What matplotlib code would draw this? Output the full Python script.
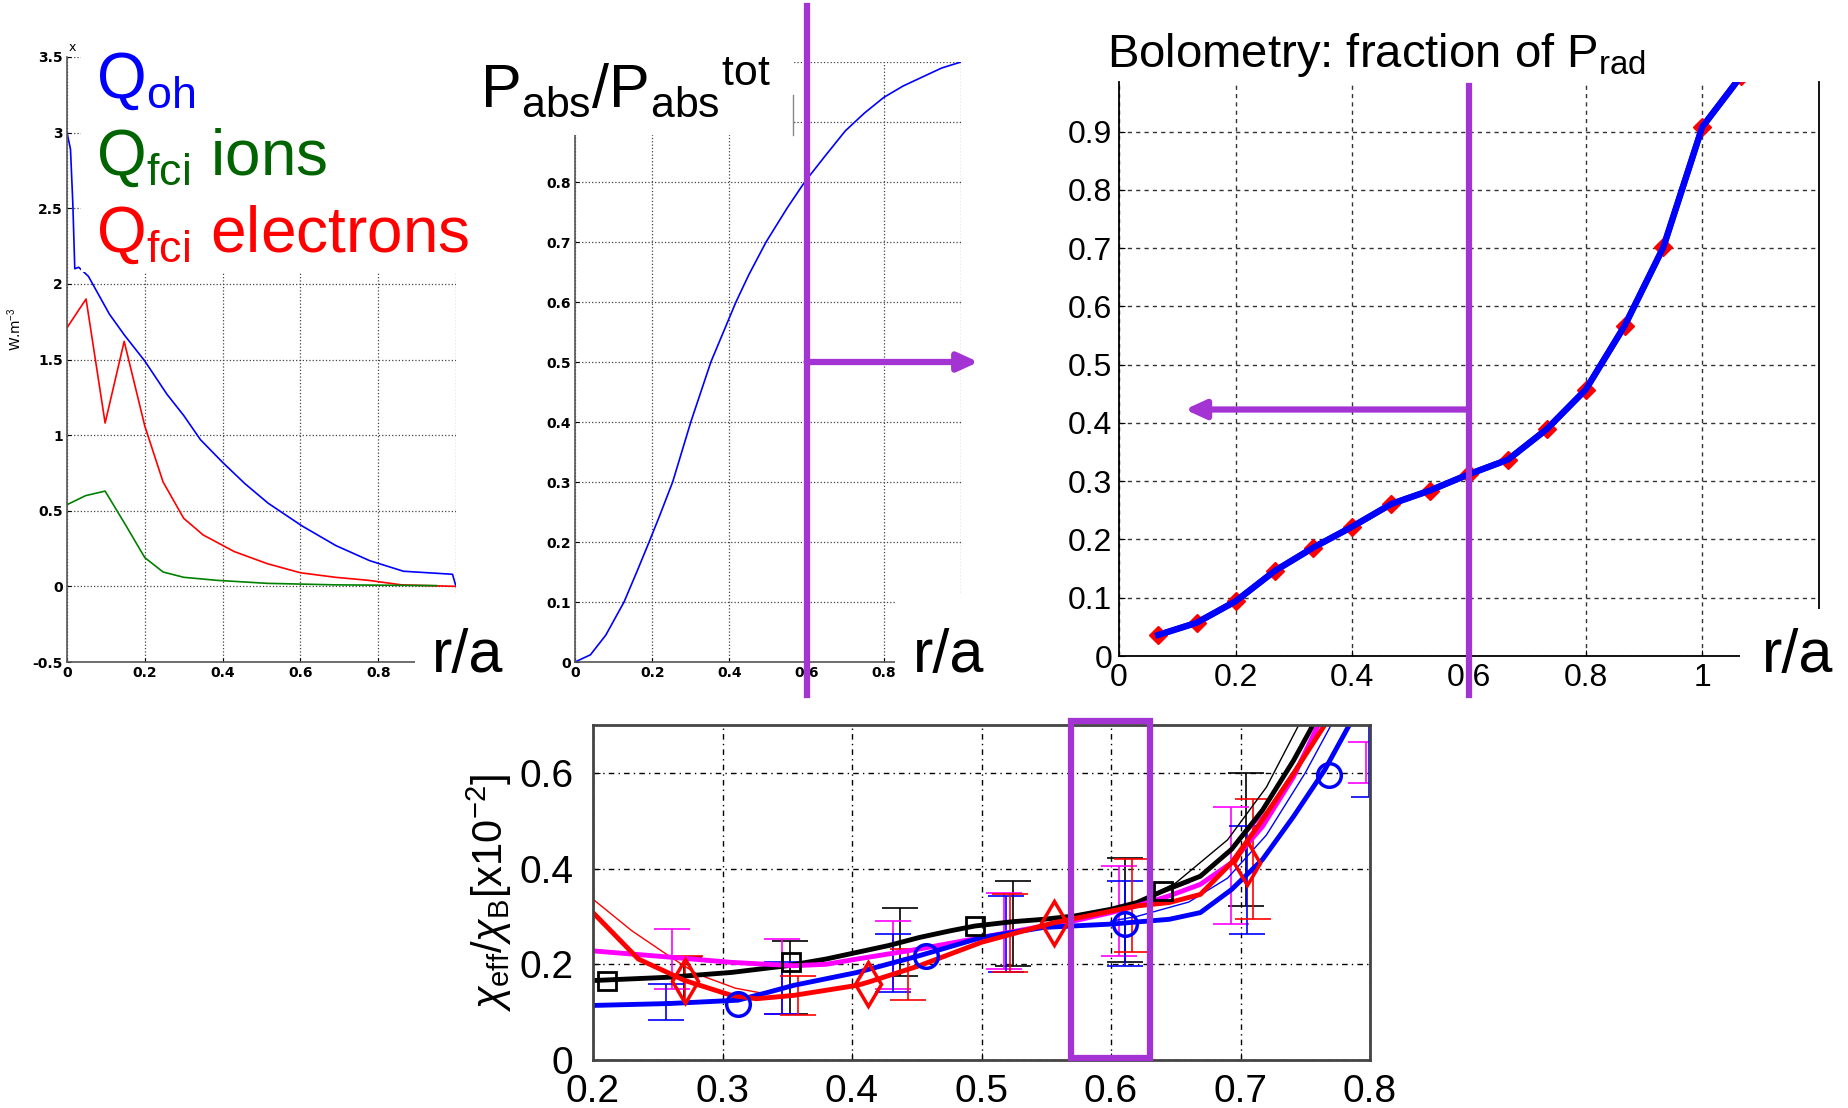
import numpy as np
import matplotlib
matplotlib.use("Agg")
import matplotlib.pyplot as plt
from matplotlib.patches import Rectangle

plt.rcParams['font.family'] = ['Liberation Sans', 'DejaVu Sans']
plt.rcParams['mathtext.fontset'] = 'custom'
plt.rcParams['mathtext.rm'] = 'Liberation Sans'
plt.rcParams['mathtext.it'] = 'Liberation Sans:italic'
plt.rcParams['mathtext.bf'] = 'Liberation Sans:bold'

PURPLE = '#A433D3'

# ---- panel 1: power densities ----
r_oh = [0, 0.009, 0.015, 0.02, 0.03, 0.055, 0.109, 0.148, 0.2, 0.257, 0.3, 0.343, 0.4,
        0.457, 0.517, 0.604, 0.691, 0.778, 0.865, 0.991, 1.0]
q_oh = [3.0, 2.89, 2.53, 2.1, 2.11, 2.05, 1.8, 1.66, 1.49, 1.27, 1.13, 0.97, 0.82,
        0.68, 0.55, 0.40, 0.27, 0.17, 0.10, 0.08, 0.0]
r_el = [0, 0.049, 0.098, 0.147, 0.2, 0.247, 0.3, 0.35, 0.43, 0.515, 0.6, 0.69, 0.775, 0.86, 1.0]
q_el = [1.71, 1.90, 1.08, 1.62, 1.06, 0.69, 0.45, 0.34, 0.23, 0.15, 0.09, 0.06, 0.04, 0.01, 0.0]
r_ion = [0, 0.048, 0.098, 0.152, 0.2, 0.247, 0.3, 0.385, 0.515, 0.69, 0.95]
q_ion = [0.54, 0.60, 0.63, 0.40, 0.19, 0.095, 0.06, 0.04, 0.02, 0.01, 0.005]

# ---- panel 2: cumulative absorbed power ----
r_abs = [0, 0.04, 0.08, 0.127, 0.16, 0.192, 0.22, 0.253, 0.3, 0.352, 0.417, 0.45, 0.495,
         0.55, 0.595, 0.65, 0.7, 0.75, 0.8, 0.85, 0.9, 0.95, 1.0]
p_abs = [0, 0.012, 0.045, 0.1, 0.15, 0.2, 0.245, 0.3, 0.4, 0.5, 0.6, 0.645, 0.7,
         0.757, 0.8, 0.845, 0.885, 0.915, 0.941, 0.96, 0.975, 0.99, 1.0]

# ---- panel 3: bolometry ----
r_bolo = [0.067, 0.133, 0.2, 0.267, 0.333, 0.4, 0.467, 0.533, 0.6, 0.667, 0.733, 0.8,
          0.867, 0.933, 1.0, 1.067]
f_bolo = [0.036, 0.057, 0.094, 0.146, 0.186, 0.222, 0.261, 0.284, 0.312, 0.337, 0.389,
          0.457, 0.567, 0.701, 0.908, 0.996]

# ---- panel 4: chi_eff / chi_B ----
x_blk = [0.2, 0.259, 0.307, 0.35, 0.38, 0.404, 0.428, 0.452, 0.476, 0.495, 0.524, 0.548,
         0.572, 0.6, 0.62, 0.64, 0.669, 0.693, 0.717, 0.741, 0.756]
y_blk = [0.166, 0.173, 0.183, 0.197, 0.211, 0.225, 0.239, 0.256, 0.27, 0.28, 0.289, 0.294,
         0.301, 0.315, 0.329, 0.353, 0.384, 0.44, 0.522, 0.626, 0.70]
x_blk_thin = [0.6, 0.62, 0.65, 0.69, 0.72, 0.745]
y_blk_thin = [0.315, 0.33, 0.37, 0.46, 0.57, 0.70]
x_blk_mk = [0.211, 0.353, 0.495, 0.64]
y_blk_mk = [0.166, 0.204, 0.28, 0.353]

x_mag = [0.2, 0.259, 0.307, 0.355, 0.38, 0.404, 0.452, 0.5, 0.548, 0.572, 0.6, 0.62,
         0.645, 0.669, 0.693, 0.717, 0.741, 0.76]
y_mag = [0.228, 0.215, 0.204, 0.197, 0.2, 0.211, 0.232, 0.256, 0.28, 0.291, 0.308, 0.322,
         0.343, 0.367, 0.412, 0.488, 0.592, 0.70]
x_mag_thin = [0.6, 0.62, 0.66, 0.69, 0.72, 0.75, 0.765]
y_mag_thin = [0.31, 0.33, 0.37, 0.43, 0.52, 0.64, 0.70]

x_blu = [0.2, 0.259, 0.312, 0.336, 0.355, 0.404, 0.452, 0.5, 0.548, 0.6, 0.645, 0.669,
         0.693, 0.717, 0.741, 0.765, 0.784]
y_blu = [0.114, 0.118, 0.125, 0.142, 0.156, 0.183, 0.218, 0.256, 0.277, 0.284, 0.294, 0.308,
         0.356, 0.419, 0.509, 0.606, 0.70]
x_blu_thin = [0.6, 0.62, 0.66, 0.69, 0.72, 0.75, 0.77]
y_blu_thin = [0.29, 0.30, 0.33, 0.38, 0.47, 0.60, 0.70]
x_blu_mk = [0.312, 0.457, 0.611, 0.768]
y_blu_mk = [0.118, 0.218, 0.284, 0.595]

x_red = [0.2, 0.235, 0.271, 0.307, 0.326, 0.355, 0.404, 0.413, 0.452, 0.5, 0.556, 0.6,
         0.62, 0.645, 0.669, 0.693, 0.717, 0.741, 0.765]
y_red = [0.308, 0.211, 0.166, 0.135, 0.128, 0.135, 0.156, 0.163, 0.197, 0.246, 0.287, 0.311,
         0.322, 0.329, 0.346, 0.412, 0.502, 0.599, 0.70]
x_red_thin = [0.2, 0.23, 0.26, 0.28, 0.31, 0.33]
y_red_thin = [0.336, 0.27, 0.215, 0.18, 0.15, 0.14]
x_red_mk = [0.271, 0.412, 0.556, 0.705]
y_red_mk = [0.166, 0.159, 0.287, 0.412]

# error bars: position, low, high
eb_blk_x = [0.27, 0.352, 0.437, 0.524, 0.611, 0.704]
eb_blk_lo = [0.121, 0.097, 0.176, 0.197, 0.204, 0.322]
eb_blk_hi = [0.215, 0.249, 0.318, 0.374, 0.422, 0.60]
eb_mag_x = [0.261, 0.346, 0.432, 0.517, 0.606, 0.693, 0.797]
eb_mag_lo = [0.149, 0.097, 0.149, 0.19, 0.218, 0.284, 0.578]
eb_mag_hi = [0.273, 0.253, 0.291, 0.349, 0.405, 0.528, 0.664]
eb_blu_x = [0.256, 0.346, 0.432, 0.519, 0.611, 0.705, 0.799]
eb_blu_lo = [0.083, 0.097, 0.142, 0.183, 0.197, 0.263, 0.55]
eb_blu_hi = [0.159, 0.204, 0.263, 0.343, 0.374, 0.488, 0.72]
eb_red_x = [0.271, 0.358, 0.443, 0.522, 0.616, 0.71]
eb_red_lo = [0.12, 0.093, 0.125, 0.183, 0.225, 0.294]
eb_red_hi = [0.218, 0.176, 0.232, 0.346, 0.42, 0.545]

W, H = 1848, 1108
fig = plt.figure(figsize=(W / 100, H / 100), dpi=100)


def box(l, r, t, b):
    return [l / W, 1 - b / H, (r - l) / W, (b - t) / H]


def small_axes(ax):
    ax.grid(True, linestyle=':', color='#444444', linewidth=0.9)
    for s in ['top', 'right']:
        ax.spines[s].set_visible(False)
    for s in ['left', 'bottom']:
        ax.spines[s].set_color('#555555')
        ax.spines[s].set_linewidth(1.2)
    ax.tick_params(direction='in', length=3, labelsize=10, pad=3)
    for lab in ax.get_xticklabels() + ax.get_yticklabels():
        lab.set_fontweight('bold')
        lab.set_family('DejaVu Sans')


# ---------- panel 1 ----------
ax1 = fig.add_axes(box(67, 456, 57, 662))
ax1.plot(r_oh, q_oh, color='blue', lw=1.2)
ax1.plot(r_el, q_el, color='red', lw=1.2)
ax1.plot(r_ion, q_ion, color='#008000', lw=1.2)
ax1.set_xlim(0, 1)
ax1.set_ylim(-0.5, 3.5)
ax1.set_xticks([0, 0.2, 0.4, 0.6, 0.8, 1.0])
ax1.set_xticklabels(['0', '0.2', '0.4', '0.6', '0.8', ''])
ax1.set_yticks(np.arange(-0.5, 3.6, 0.5))
ax1.set_yticklabels(['-0.5', '0', '0.5', '1', '1.5', '2', '2.5', '3', '3.5'])
small_axes(ax1)
ax1.set_ylabel(r'W.m$^{-3}$', fontsize=10, family='DejaVu Sans')
ax1.yaxis.set_label_coords(-0.11, 0.55)
ax1.text(0.005, 3.52, 'x', fontsize=9, family='DejaVu Sans', va='bottom')
ax1.add_patch(Rectangle((0.035, 2.08), 1.3, 2.0, facecolor='white', edgecolor='none',
                        clip_on=False, zorder=5))
ax1.add_patch(Rectangle((0.895, -0.8), 0.4, 0.75, facecolor='white', edgecolor='none',
                        clip_on=False, zorder=5))
ax1.text(0.075, 3.23, r'Q$_{\rm oh}$', color='blue', fontsize=46, zorder=6, va='baseline')
ax1.text(0.075, 2.72, r'Q$_{\rm fci}$ ions', color='#006400', fontsize=46, zorder=6,
         va='baseline')
ax1.text(0.075, 2.21, r'Q$_{\rm fci}$ electrons', color='red', fontsize=46, zorder=6,
         va='baseline')

# ---------- panel 2 ----------
ax2 = fig.add_axes(box(575, 961, 62, 662))
ax2.plot(r_abs, p_abs, color='blue', lw=1.2)
ax2.set_xlim(0, 1)
ax2.set_ylim(0, 1)
ax2.set_xticks([0, 0.2, 0.4, 0.6, 0.8, 1.0])
ax2.set_xticklabels(['0', '0.2', '0.4', '0.6', '0.8', ''])
ax2.set_yticks(np.arange(0, 1.01, 0.1))
ax2.set_yticklabels(['0', '0.1', '0.2', '0.3', '0.4', '0.5', '0.6', '0.7', '0.8', '', ''])
small_axes(ax2)
ax2.add_patch(Rectangle((-0.3, 0.878), 0.865, 0.4, facecolor='white', edgecolor='none',
                        clip_on=False, zorder=5))
ax2.plot([0.565, 0.565], [0.878, 0.945], color='#888888', lw=1, clip_on=False, zorder=6)
ax2.add_patch(Rectangle((0.83, -0.12), 0.4, 0.232, facecolor='white', edgecolor='none',
                        clip_on=False, zorder=5))
ax2.text(-0.245, 0.925, r'P$_{\rm abs}$/P$_{\rm abs}{}^{\rm tot}$', fontsize=44, zorder=6,
         va='baseline')
ax2.plot([0.6, 0.6], [-0.055, 1.093], color=PURPLE, lw=4.5, clip_on=False, zorder=7)
ax2.annotate('', xy=(1.045, 0.5), xytext=(0.6, 0.5), zorder=7, annotation_clip=False,
             arrowprops=dict(arrowstyle='-|>,head_length=1.2,head_width=0.55',
                             color=PURPLE, lw=4.5, shrinkA=0, shrinkB=0))

# ---------- panel 3 ----------
ax3 = fig.add_axes(box(1119, 1819, 82, 656))
ax3.plot(r_bolo, f_bolo, color='blue', lw=4.5, marker='D', ms=9, mfc='red', mec='red',
         zorder=3)
ax3.plot(r_bolo, f_bolo, color='blue', lw=4.5, zorder=4)
ax3.set_xlim(0, 1.2)
ax3.set_ylim(0, 0.985)
ax3.set_xticks([0, 0.2, 0.4, 0.6, 0.8, 1.0])
ax3.set_xticklabels(['0', '0.2', '0.4', '0.6', '0.8', '1'])
ax3.set_yticks(np.arange(0, 0.91, 0.1))
ax3.set_yticklabels(['0', '0.1', '0.2', '0.3', '0.4', '0.5', '0.6', '0.7', '0.8', '0.9'])
ax3.grid(True, linestyle=(0, (3, 3)), color='#333333', linewidth=1.0)
ax3.spines['top'].set_visible(False)
for s in ['left', 'bottom', 'right']:
    ax3.spines[s].set_linewidth(1.3)
ax3.tick_params(direction='in', length=4, labelsize=23, pad=5)
ax3.add_patch(Rectangle((1.065, -0.2), 0.3, 0.28, facecolor='white', edgecolor='none',
                        clip_on=False, zorder=5))
ax3.text(-0.02, 1.01, r'Bolometry: fraction of P$_{\rm rad}$', fontsize=34, zorder=6,
         va='baseline')
ax3.plot([0.6, 0.6], [-0.067, 0.978], color=PURPLE, lw=4.5, clip_on=False, zorder=7)
ax3.annotate('', xy=(0.113, 0.423), xytext=(0.6, 0.423), zorder=7, annotation_clip=False,
             arrowprops=dict(arrowstyle='-|>,head_length=1.2,head_width=0.55',
                             color=PURPLE, lw=4.5, shrinkA=0, shrinkB=0))

# r/a labels
for xp in [432, 913, 1762]:
    fig.text(xp / W, 1 - 672 / H, 'r/a', fontsize=44, va='baseline', zorder=10)

# ---------- panel 4 ----------
ax4 = fig.add_axes(box(593, 1370, 725, 1060))
eb_kw = dict(fmt='none', lw=1.2, capsize=13, capthick=1.2)
for xs, lo, hi, c in [(eb_blk_x, eb_blk_lo, eb_blk_hi, 'black'),
                      (eb_mag_x, eb_mag_lo, eb_mag_hi, '#FF00FF'),
                      (eb_blu_x, eb_blu_lo, eb_blu_hi, 'blue'),
                      (eb_red_x, eb_red_lo, eb_red_hi, 'red')]:
    xs = np.array(xs)
    lo = np.array(lo)
    hi = np.array(hi)
    mid = (lo + hi) / 2
    ax4.errorbar(xs, mid, yerr=[mid - lo, hi - mid], ecolor=c, **eb_kw)

ax4.plot(x_blk_thin, y_blk_thin, color='black', lw=1)
ax4.plot(x_mag_thin, y_mag_thin, color='#FF00FF', lw=1)
ax4.plot(x_blu_thin, y_blu_thin, color='blue', lw=1)
ax4.plot(x_red_thin, y_red_thin, color='red', lw=1)
ax4.plot(x_blk, y_blk, color='black', lw=3.5)
ax4.plot(x_mag, y_mag, color='#FF00FF', lw=3.5)
ax4.plot(x_blu, y_blu, color='blue', lw=3.5)
ax4.plot(x_red, y_red, color='red', lw=3.5)
ax4.plot(x_blk_mk, y_blk_mk, ls='none', marker='s', ms=13, mfc='none', mec='black', mew=2)
ax4.plot(x_blu_mk, y_blu_mk, ls='none', marker='o', ms=17, mfc='none', mec='blue', mew=2.5)
ax4.plot(x_red_mk, y_red_mk, ls='none', marker='d', ms=22, mfc='none', mec='red', mew=2.5)
ax4.set_xlim(0.2, 0.8)
ax4.set_ylim(0, 0.7)
ax4.set_xticks([0.2, 0.3, 0.4, 0.5, 0.6, 0.7, 0.8])
ax4.set_xticklabels(['0.2', '0.3', '0.4', '0.5', '0.6', '0.7', '0.8'])
ax4.set_yticks([0, 0.2, 0.4, 0.6])
ax4.set_yticklabels(['0', '0.2', '0.4', '0.6'])
ax4.grid(True, linestyle=(0, (4, 3, 1, 3)), color='black', linewidth=1.0)
for s in ax4.spines.values():
    s.set_linewidth(2)
    s.set_color('#444444')
ax4.tick_params(axis='x', direction='in', length=5, labelsize=28, pad=10)
ax4.tick_params(axis='y', direction='in', length=5, labelsize=28, pad=14)
ax4.set_ylabel(r'$\chi_{\rm eff}$/$\chi_{\rm B}$[x10$^{-2}$]', fontsize=30, labelpad=4)
ax4.add_patch(Rectangle((0.569, 0.005), 0.061, 0.703, fill=False, edgecolor=PURPLE, lw=4.5,
                        clip_on=False, zorder=7))

fig.savefig('out.png', dpi=100)
